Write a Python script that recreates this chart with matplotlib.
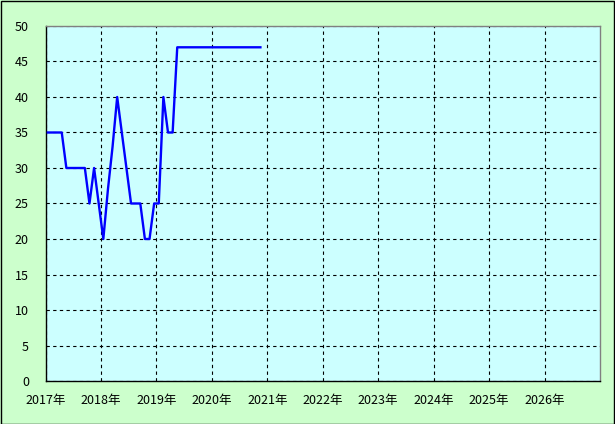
import numpy as np
import matplotlib
matplotlib.use('Agg')
import matplotlib.pyplot as plt
from matplotlib.patches import Rectangle

plt.rcParams['font.family'] = ['Noto Sans CJK JP', 'DejaVu Sans']

# monthly values, Jan 2017 .. Nov 2020
start_year = 2017
values = [35, 35, 35, 35, 30, 30, 30, 30, 30, 25, 30, 25,
          20, 27, 33, 40, 35, 30, 25, 25, 25, 20, 20, 25,
          25, 40, 35, 35, 47, 47, 47, 47, 47, 47, 47, 47,
          47, 47, 47, 47, 47, 47, 47, 47, 47, 47, 47]
years = list(range(2017, 2027))
year_labels = [f'{y}年' for y in years]
y_ticks = list(range(0, 51, 5))

# points sit in the middle of each month
x = start_year + (np.arange(len(values)) + 0.5) / 12

fig = plt.figure(figsize=(6.15, 4.24), dpi=100, facecolor='#CCFFCC')
ax = fig.add_axes([0.0741, 0.1014, 0.9015, 0.8373])
ax.set_facecolor('#CCFFFF')

ax.plot(x, values, color='#0000FF', lw=1.7, zorder=3)

ax.set_xlim(2017, 2027)
ax.set_ylim(0, 50)
ax.set_xticks(years)
ax.set_xticklabels(year_labels)
ax.set_yticks(y_ticks)
ax.tick_params(length=0, labelsize=9, colors='black')
ax.tick_params(axis='x', pad=9)
ax.tick_params(axis='y', pad=12)
ax.grid(True, color='black', linestyle=(0, (3, 3)), linewidth=0.8)

for side in ('left', 'bottom'):
    ax.spines[side].set_color('black')
    ax.spines[side].set_linewidth(1.0)
for side in ('top', 'right'):
    ax.spines[side].set_color('#808080')
    ax.spines[side].set_linewidth(1.0)

fig.patches.append(Rectangle((0.001, 0.001), 0.997, 0.997, transform=fig.transFigure,
                             fill=False, edgecolor='black', linewidth=1.0))

fig.savefig('out.png', dpi=100, facecolor=fig.get_facecolor())
